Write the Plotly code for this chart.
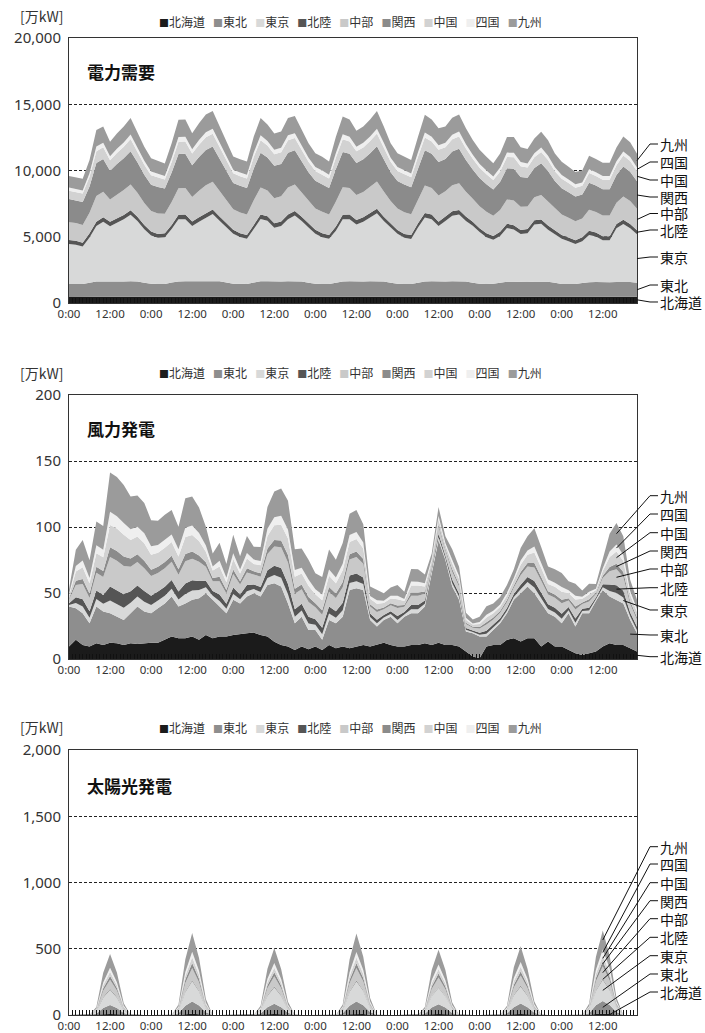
import plotly.graph_objects as go

# ---------------- categories / labels ----------------
hours = list(range(0, 167, 2))          # 2-hour steps over 7 days
tick_vals = [0, 12, 24, 36, 48, 60, 72, 84, 96, 108, 120, 132, 144, 156]
tick_text = ["0:00", "12:00", "0:00", "12:00", "0:00", "12:00", "0:00",
             "12:00", "0:00", "12:00", "0:00", "12:00", "0:00", "12:00"]
regions = ["北海道", "東北", "東京", "北陸", "中部", "関西", "中国", "四国", "九州"]
chart_titles = ["電力需要", "風力発電", "太陽光発電"]
unit_label = "[万kW]"

# ---------------- 電力需要 (万kW) ----------------
demand_hokkaido = [490,495,490,480,470,465,470,470,465,470,475,480,
                   490,490,485,480,470,470,475,470,470,470,480,485,
                   490,495,490,480,475,470,470,470,470,475,475,480,
                   490,490,490,485,470,470,465,470,470,470,475,480,
                   495,490,490,480,470,470,470,470,475,470,470,480,
                   490,490,495,485,475,470,470,470,470,470,475,485,
                   490,495,490,485,475,470,470,470,470,470,475,480]
demand_tohoku = [950,940,945,1050,1150,1160,1140,1150,1160,1170,1150,1050,
                 960,950,950,1060,1160,1170,1150,1160,1170,1180,1160,1060,
                 960,955,950,1060,1170,1180,1150,1160,1170,1180,1150,1050,
                 960,950,950,1050,1160,1170,1150,1150,1170,1180,1150,1050,
                 950,950,945,1050,1160,1170,1150,1160,1170,1180,1160,1050,
                 960,950,950,1040,1130,1140,1120,1120,1140,1150,1130,1040,
                 950,940,940,1020,1100,1110,1090,1090,1110,1130,1110,1040]
demand_tokyo = [3020,2970,2820,3420,4190,4510,4190,4440,4690,5020,4560,4040,
                3650,3480,3530,4040,4690,4690,4190,4510,4820,5070,4560,4170,
                3780,3530,3400,4040,4690,4560,4060,4190,4690,4940,4560,4170,
                3780,3530,3400,3920,4690,4690,4310,4510,4820,5120,4560,4170,
                3780,3480,3400,4170,4820,4690,4190,4560,4940,5020,4560,4300,
                3900,3530,3320,3540,4060,3930,3610,3680,4310,4360,3930,3670,
                3400,3220,3020,3160,3560,3430,3180,3180,4060,4360,4060,3670]
demand_hokuriku = [290,290,285,310,330,335,330,330,335,340,330,310,
                   290,290,290,310,335,340,330,335,340,345,330,310,
                   295,290,290,310,335,340,330,335,340,345,330,310,
                   290,290,290,310,335,340,330,335,340,345,330,310,
                   290,290,290,310,335,340,330,335,340,345,330,310,
                   290,290,285,305,325,325,315,315,325,330,320,305,
                   285,285,280,300,315,315,305,305,315,325,315,300]
demand_chubu = [1350,1340,1350,1550,1930,1920,1690,1790,1870,1950,1800,1660,
                1550,1550,1480,1730,2010,2010,1860,1990,2080,2080,1900,1730,
                1550,1560,1550,1870,2040,1940,1900,1900,2040,2010,1830,1690,
                1620,1620,1550,1900,2080,2010,1890,1920,1970,2060,1900,1690,
                1620,1630,1580,1830,2080,2010,1970,1900,1970,2020,1870,1720,
                1660,1620,1540,1650,1830,1870,1750,1690,1730,1850,1800,1620,
                1550,1500,1440,1410,1580,1550,1550,1550,1620,1760,1730,1620]
demand_kansai = [1740,1720,1740,1990,2490,2470,2170,2310,2400,2510,2310,2130,
                 1990,1990,1900,2220,2580,2580,2400,2560,2670,2670,2450,2220,
                 1990,2010,1990,2400,2630,2490,2440,2440,2630,2580,2350,2170,
                 2080,2080,1990,2440,2670,2580,2430,2470,2530,2650,2450,2170,
                 2080,2100,2040,2350,2670,2580,2530,2450,2540,2600,2400,2220,
                 2130,2080,1980,2130,2350,2400,2250,2170,2220,2380,2310,2080,
                 1990,1920,1860,1810,2040,1990,1990,1990,2080,2260,2220,2080]
demand_chugoku = [630,620,630,720,900,890,790,830,870,910,830,770,
                  720,720,690,800,930,930,870,920,960,960,880,800,
                  720,730,720,870,950,900,880,880,950,930,850,790,
                  750,750,720,880,960,930,880,890,920,960,880,790,
                  750,760,740,850,960,930,920,880,920,940,870,800,
                  770,750,710,770,850,870,810,790,800,860,830,750,
                  720,690,670,660,740,720,720,720,750,820,800,750]
demand_shikoku = [240,240,240,280,350,340,300,320,330,350,320,300,
                  280,280,260,310,360,360,330,360,370,370,340,310,
                  280,280,280,330,370,350,340,340,370,360,330,300,
                  290,290,280,340,370,360,340,340,350,370,340,300,
                  290,290,280,330,370,360,350,340,350,360,330,310,
                  300,290,270,300,330,330,310,300,310,330,320,290,
                  280,270,260,250,280,280,280,280,290,310,310,290]
demand_kyushu = [870,860,870,990,1240,1230,1090,1160,1200,1250,1160,1060,
                 1000,990,950,1110,1290,1290,1200,1270,1340,1340,1230,1110,
                 990,1000,1000,1200,1310,1240,1230,1230,1310,1290,1180,1090,
                 1040,1040,1000,1230,1340,1290,1200,1230,1270,1330,1230,1090,
                 1040,1050,1020,1180,1340,1290,1270,1230,1270,1300,1200,1110,
                 1060,1040,990,1060,1180,1200,1120,1090,1110,1200,1160,1040,
                 1000,960,930,910,1020,1000,1000,1000,1050,1140,1110,1040]

# ---------------- 風力発電 (万kW) ----------------
wind_hokkaido = [9.4,14.5,10.7,9.4,12,10.7,12.4,12,10.7,12,11.4,12,
                 12.4,12.4,14.5,17,15.7,15.7,17,14.5,18.2,15.7,17,17,
                 18.2,19,19.5,20,18.2,17,13,10.7,9.4,6.9,9.4,7.4,
                 9.4,6.9,10.7,8.1,9.4,8.1,9.4,10.7,9.4,10.7,12.4,10.7,
                 9.4,9.4,10.7,10.7,12,10.7,12.4,10.7,10.7,9.4,5.6,1.8,
                 0.6,9.4,10.7,10.7,14.5,15.7,13.2,15.7,15.7,9.4,13.2,9.4,
                 9.4,6.9,4.3,3,4.3,5.6,9.4,12,10.7,10.7,8.1,5.6]
wind_tohoku = [30.3,23.9,24.0,17.6,27.7,25.3,22.3,20,18.9,22.7,28.3,24,
               22.3,26,27.5,30.3,24,26.3,27.8,31.5,31.6,29.1,22.7,17.7,
               26.6,23,27.8,29.8,29.1,39,44.4,44.2,32.6,20.1,22.6,14.6,
               12.6,7.6,18.9,18.9,22.6,44.2,44.2,41.6,20.2,13.9,17.2,21.3,
               17.6,22.6,24,24,27.7,55.3,77.6,64.3,44.2,35.4,15.2,17.7,
               16.4,7.6,11.3,16.3,20.2,29.1,36.6,39.2,34.1,32.6,21.5,22.6,
               17.6,27.8,20.3,31.7,30.4,38.4,42.9,35.3,34.1,31.3,21.5,13.9]
wind_tokyo = [1.2,4.0,5.0,4.3,5.8,5.9,9.6,9.5,9.2,7.9,7.6,7.4,
              6.3,6.0,6.0,5.9,5.4,7.2,7.0,6.2,4.5,3.2,4.3,3.4,
              4.4,3.2,4.1,3.2,3.4,5.3,6.3,6.7,7.0,5.0,4.7,4.8,
              3.9,4.3,4.8,4.3,5.0,5.2,5.3,4.5,2.3,2.5,1.8,2.0,
              2.6,1.7,3.0,3.0,2.2,1.3,2.3,1.6,2.5,2.3,1.3,0.9,
              1.4,2.1,1.8,1.8,1.9,2.1,3.1,3.4,4.4,3.9,3.2,3.2,
              3.4,2.2,2.9,1.6,2.0,1.2,2.0,4.3,5.2,4.6,2.7,2.3]
wind_hokuriku = [1.3,4.4,5.5,4.8,6.4,6.5,10.6,10.6,10.2,8.8,8.4,8.2,
                 7.0,6.7,6.7,6.6,6.0,8.0,7.8,6.9,5.0,3.5,4.8,3.7,
                 4.9,3.6,4.6,3.5,3.8,5.9,7.0,7.4,7.8,5.6,5.2,5.3,
                 4.3,4.8,5.3,4.8,5.6,5.8,5.9,5.0,2.5,2.7,2.0,2.2,
                 2.9,1.9,3.3,3.3,2.4,1.4,2.5,1.8,2.8,2.5,1.4,1.1,
                 1.5,2.3,2.0,2.0,2.1,2.3,3.4,3.8,4.9,4.3,3.5,3.6,
                 3.8,2.4,3.2,1.7,2.2,1.3,2.3,4.8,5.8,5.1,3.0,2.6]
wind_chubu = [2.8,9.3,11.6,10.1,13.5,13.7,22.3,22.3,21.5,18.5,17.7,17.2,
              14.8,14.0,14.1,13.8,12.7,16.8,16.4,14.5,10.5,7.4,10.1,7.8,
              10.3,7.6,9.6,7.4,7.9,12.4,14.6,15.6,16.4,11.8,10.9,11.1,
              9.0,10.0,11.2,10.1,11.8,12.1,12.5,10.4,5.3,5.8,4.3,4.6,
              6.1,4.0,7.0,7.0,5.1,2.9,5.3,3.8,5.9,5.3,3.0,2.2,
              3.2,4.8,4.2,4.2,4.5,4.9,7.2,8.0,10.3,9.0,7.4,7.6,
              8.0,5.1,6.8,3.6,4.7,2.7,4.8,10.0,12.2,10.7,6.4,5.4]
wind_kansai = [0.9,3.1,3.9,3.4,4.5,4.6,7.4,7.4,7.2,6.2,5.9,5.7,
               4.9,4.7,4.7,4.6,4.2,5.6,5.5,4.8,3.5,2.5,3.4,2.6,
               3.4,2.5,3.2,2.5,2.6,4.1,4.9,5.2,5.5,3.9,3.6,3.7,
               3.0,3.3,3.7,3.4,3.9,4.0,4.2,3.5,1.8,1.9,1.4,1.5,
               2.0,1.3,2.3,2.3,1.7,1.0,1.8,1.3,2.0,1.8,1.0,0.7,
               1.1,1.6,1.4,1.4,1.5,1.6,2.4,2.7,3.4,3.0,2.5,2.5,
               2.7,1.7,2.3,1.2,1.6,0.9,1.6,3.3,4.1,3.6,2.1,1.8]
wind_chugoku = [2.1,7.1,8.8,7.7,10.3,10.4,17.0,17.0,16.4,14.1,13.5,13.1,
                11.2,10.7,10.7,10.5,9.6,12.8,12.5,11.0,8.0,5.6,7.7,6.0,
                7.9,5.8,7.3,5.6,6.0,9.4,11.1,11.9,12.5,9.0,8.3,8.5,
                6.9,7.6,8.5,7.7,9.0,9.2,9.5,8.0,4.1,4.4,3.3,3.5,
                4.6,3.0,5.3,5.3,3.9,2.2,4.0,2.9,4.5,4.0,2.3,1.7,
                2.4,3.7,3.2,3.2,3.4,3.7,5.5,6.1,7.9,6.9,5.6,5.8,
                6.1,3.9,5.2,2.8,3.6,2.1,3.6,7.6,9.3,8.2,4.9,4.1]
wind_shikoku = [1.1,4.2,5.2,4.1,6.0,5.7,9.9,9.3,9.0,8.1,7.4,7.6,
                6.5,5.8,6.2,5.7,5.6,7.0,7.2,6.0,4.6,3.1,4.4,3.3,
                4.5,3.1,4.2,3.3,3.3,5.5,6.1,6.9,6.8,5.2,4.5,4.9,
                3.8,4.4,4.7,4.4,4.9,5.3,5.2,4.6,2.2,2.6,1.7,2.1,
                2.7,1.6,3.1,2.9,2.3,1.2,2.4,1.5,2.6,2.2,1.4,0.8,
                1.5,2.0,1.9,1.7,2.0,2.0,3.2,3.3,4.5,3.8,3.3,3.1,
                3.5,2.1,3.0,1.5,2.1,1.1,2.1,4.2,5.3,4.5,2.8,2.2]
wind_kyushu = [3.8,12.3,15.5,13.4,18.0,18.0,29.8,29.7,28.7,24.9,23.6,23.0,
               19.8,18.5,18.8,18.4,17.0,22.4,22.0,19.4,14.2,9.8,13.7,10.4,
               13.9,10.1,12.8,9.8,10.6,16.6,19.4,20.6,21.8,15.7,14.6,14.8,
               12.0,13.2,15.1,13.4,15.7,16.2,16.7,13.8,7.1,7.6,5.8,6.2,
               8.2,5.4,9.4,9.4,6.8,3.9,6.8,5.0,7.9,7.0,3.9,3.0,
               4.0,6.4,5.6,5.6,6.0,6.5,9.5,10.7,13.9,12.0,9.9,10.1,
               10.6,6.8,9.1,4.8,6.2,3.6,6.4,13.4,16.4,14.2,8.6,7.0]

# ---------------- 太陽光発電 (万kW) ----------------
solar_hokkaido = [0,0,0,0,1,5,7,5,1,0,0,0,
                  0,0,0,0,1,6,9,6,2,0,0,0,
                  0,0,0,0,1,5,8,5,2,0,0,0,
                  0,0,0,0,1,6,9,7,2,0,0,0,
                  0,0,0,0,1,5,7,5,1,0,0,0,
                  0,0,0,0,1,5,8,5,2,0,0,0,
                  0,0,0,0,1,7,10,7,2,0,0,0]
solar_tohoku = [0,0,0,0,9,48,69,48,14,0,0,0,
                0,0,0,0,12,63,93,65,18,0,0,0,
                0,0,0,0,11,53,76,53,15,0,0,0,
                0,0,0,0,12,63,92,66,20,0,0,0,
                0,0,0,0,9,51,74,51,14,0,0,0,
                0,0,0,0,11,54,78,53,15,0,0,0,
                0,0,0,0,13,66,96,68,20,0,0,0]
solar_tokyo = [0,0,0,0,15,80,115,80,23,0,0,0,
               0,0,0,0,20,105,155,108,30,0,0,0,
               0,0,0,0,18,88,126,88,25,0,0,0,
               0,0,0,0,20,105,154,110,33,0,0,0,
               0,0,0,0,15,85,124,85,24,0,0,0,
               0,0,0,0,18,90,130,88,25,0,0,0,
               0,0,0,0,21,110,160,113,33,0,0,0]
solar_hokuriku = [0,0,0,0,1,3,5,3,1,0,0,0,
                  0,0,0,0,1,4,6,4,1,0,0,0,
                  0,0,0,0,1,4,5,4,1,0,0,0,
                  0,0,0,0,1,4,6,4,1,0,0,0,
                  0,0,0,0,1,3,5,3,1,0,0,0,
                  0,0,0,0,1,4,5,4,1,0,0,0,
                  0,0,0,0,1,4,6,5,1,0,0,0]
solar_chubu = [0,0,0,0,9,47,70,48,13,0,0,0,
               0,0,0,0,12,64,92,65,18,0,0,0,
               0,0,0,0,10,53,77,52,15,0,0,0,
               0,0,0,0,12,62,93,66,19,0,0,0,
               0,0,0,0,9,52,73,51,14,0,0,0,
               0,0,0,0,11,54,77,53,16,0,0,0,
               0,0,0,0,13,67,95,68,20,0,0,0]
solar_kansai = [0,0,0,0,4,19,28,19,5,0,0,0,
                0,0,0,0,5,25,37,26,7,0,0,0,
                0,0,0,0,4,21,30,21,6,0,0,0,
                0,0,0,0,5,25,37,26,8,0,0,0,
                0,0,0,0,4,20,30,20,6,0,0,0,
                0,0,0,0,4,22,31,21,6,0,0,0,
                0,0,0,0,5,26,38,27,8,0,0,0]
solar_chugoku = [0,0,0,0,4,22,32,22,6,0,0,0,
                 0,0,0,0,6,29,43,30,8,0,0,0,
                 0,0,0,0,5,25,35,25,7,0,0,0,
                 0,0,0,0,6,29,43,31,9,0,0,0,
                 0,0,0,0,4,24,35,24,7,0,0,0,
                 0,0,0,0,5,25,36,25,7,0,0,0,
                 0,0,0,0,6,31,45,32,9,0,0,0]
solar_shikoku = [0,0,0,0,4,21,31,22,6,0,0,0,
                 0,0,0,0,6,28,42,30,8,0,0,0,
                 0,0,0,0,5,24,35,24,7,0,0,0,
                 0,0,0,0,6,29,42,30,9,0,0,0,
                 0,0,0,0,4,23,34,24,7,0,0,0,
                 0,0,0,0,5,25,35,24,7,0,0,0,
                 0,0,0,0,6,30,44,32,9,0,0,0]
solar_kyushu = [0,0,0,0,13,73,103,73,20,0,0,0,
                0,0,0,0,17,96,141,96,28,0,0,0,
                0,0,0,0,14,76,114,76,22,0,0,0,
                0,0,0,0,17,96,139,99,28,0,0,0,
                0,0,0,0,13,77,111,77,21,0,0,0,
                0,0,0,0,14,81,118,76,22,0,0,0,
                0,0,0,0,19,99,144,98,28,0,0,0]

demand = [demand_hokkaido, demand_tohoku, demand_tokyo, demand_hokuriku, demand_chubu,
          demand_kansai, demand_chugoku, demand_shikoku, demand_kyushu]
wind = [wind_hokkaido, wind_tohoku, wind_tokyo, wind_hokuriku, wind_chubu,
        wind_kansai, wind_chugoku, wind_shikoku, wind_kyushu]
solar = [solar_hokkaido, solar_tohoku, solar_tokyo, solar_hokuriku, solar_chubu,
         solar_kansai, solar_chugoku, solar_shikoku, solar_kyushu]

# ---------------- styling ----------------
W, H = 705, 1033
colors = ["#1b1b1b", "#8e8e8e", "#d8d9d9", "#555555", "#c9c9c9",
          "#8b8b8b", "#d2d2d2", "#efefef", "#9b9b9b"]
CJK = "Noto Sans CJK JP"
NUM = "Noto Sans"
XD = [69 / W, 637 / W]

def py(pix):
    return 1 - pix / H

charts = [
    dict(data=demand, ymax=20000, dtick=5000, top=38, bot=303, title_y=72, head_y=18,
         label_y=[302, 285, 257, 230, 213.5, 197, 180, 162, 144],
         idx=[83] * 9),
    dict(data=wind, ymax=200, dtick=50, top=395, bot=659, title_y=428, head_y=373,
         label_y=[656.7, 635, 610, 587.7, 569, 551, 532.7, 514, 495.7],
         idx=[83, 82, 81, 80, 80, 80, 80, 80, 80]),
    dict(data=solar, ymax=2000, dtick=500, top=750, bot=1015, title_y=785, head_y=727,
         label_y=[992, 974, 955.7, 937.3, 918.7, 900.7, 882.7, 864, 846.7],
         idx=[79, 78, 78, 78, 78, 78, 78, 78, 78]),
]

fig = go.Figure()
shapes, annotations = [], []
layout = {}

legend_text = "\u00a0\u00a0\u00a0".join(
    f"<span style='font-size:10px;color:{c}'>■</span>{r}" for r, c in zip(regions, colors))

for ci, ch in enumerate(charts):
    n = "" if ci == 0 else str(ci + 1)
    xa, ya = "x" + n, "y" + n
    dom = [py(ch["bot"]), py(ch["top"])]
    for k in range(9):
        fig.add_trace(go.Scatter(
            x=hours, y=ch["data"][k], name=regions[k], mode="lines",
            stackgroup="s%d" % ci, line=dict(width=0), fillcolor=colors[k],
            xaxis=xa, yaxis=ya, hoverinfo="skip", showlegend=False))
    layout["xaxis" + n] = dict(
        domain=XD, anchor=ya, range=[0, 166], tickmode="array", automargin=False,
        tickvals=tick_vals, ticktext=tick_text, ticks="inside", ticklen=5,
        tickcolor="#111111", tickwidth=1, showgrid=False, zeroline=False,
        showline=True, mirror=True, linecolor="#333333", linewidth=1,
        ticklabelstandoff=0,
        tickfont=dict(family=NUM, size=11.5, color="#333333"),
        minor=dict(ticks="inside", ticklen=5, tickcolor="#111111", tickwidth=1,
                   tickmode="linear", tick0=0, dtick=1, showgrid=False),
        fixedrange=True)
    layout["yaxis" + n] = dict(
        domain=dom, anchor=xa, range=[0, ch["ymax"]], tickmode="linear", tick0=0,
        automargin=False, ticklabelstandoff=4,
        dtick=ch["dtick"], tickformat=",d", showgrid=True, gridcolor="#222222",
        griddash="3px,2px", gridwidth=1, zeroline=False, showline=True, mirror=True,
        linecolor="#333333", linewidth=1, ticks="",
        tickfont=dict(family=NUM, size=15, color="#333333"), fixedrange=True)

    # titles / unit / legend
    annotations.append(dict(text="<b>" + chart_titles[ci] + "</b>", x=85 / W, y=py(ch["title_y"]),
                            xref="paper", yref="paper", xanchor="left", yanchor="middle",
                            showarrow=False, font=dict(family=CJK, size=17, color="#111111")))
    annotations.append(dict(text=unit_label, x=18 / W, y=py(ch["head_y"] - 2 if ci == 0 else ch["head_y"]),
                            xref="paper", yref="paper", xanchor="left", yanchor="middle",
                            showarrow=False, font=dict(family=CJK, size=14, color="#333333")))
    annotations.append(dict(text=legend_text, x=350 / W, y=py(ch["head_y"] + (3 if ci == 0 else 0)),
                            xref="paper", yref="paper", xanchor="center", yanchor="middle",
                            showarrow=False, font=dict(family=CJK, size=12, color="#333333")))

    # region labels with leader lines
    for k in range(9):
        idx = ch["idx"][k]
        lower = sum(ch["data"][j][idx] for j in range(k))
        mid = lower + ch["data"][k][idx] / 2.0
        ye = dom[0] + mid / ch["ymax"] * (dom[1] - dom[0])
        xe = XD[0] + hours[idx] / 166.0 * (XD[1] - XD[0])
        yl = py(ch["label_y"][k])
        shapes.append(dict(type="path", xref="paper", yref="paper",
                           path=f"M {xe:.5f},{ye:.5f} L {650 / W:.5f},{yl:.5f} L {658 / W:.5f},{yl:.5f}",
                           line=dict(color="#111111", width=1)))
        annotations.append(dict(text=regions[k], x=658 / W, y=yl, xref="paper", yref="paper",
                                xanchor="left", yanchor="middle", showarrow=False,
                                font=dict(family=CJK, size=14, color="#111111")))

fig.update_layout(
    width=W, height=H, margin=dict(l=0, r=0, t=0, b=0, autoexpand=False),
    paper_bgcolor="white", plot_bgcolor="white", showlegend=False,
    font=dict(family=CJK, color="#333333"),
    shapes=shapes, annotations=annotations, **layout)

fig.write_html("out.html", config={"displayModeBar": False},
               post_script="document.body.style.margin='0px';document.body.style.padding='0px';")
